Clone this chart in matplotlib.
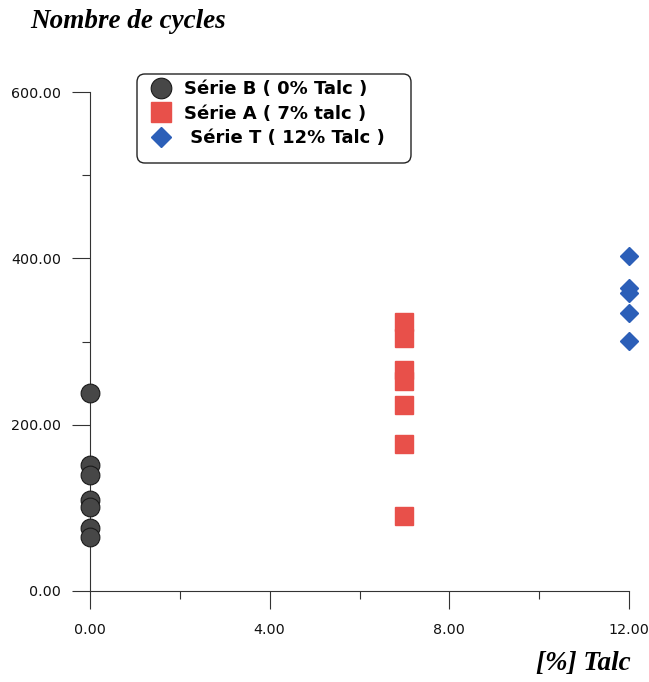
import matplotlib.pyplot as plt
from matplotlib.patches import FancyBboxPatch
from matplotlib.ticker import MultipleLocator, FormatStrFormatter

# nombre de cycles pour chaque teneur en talc
talc_B = [0, 0, 0, 0, 0, 0, 0]
cycles_B = [238, 151, 139, 109, 101, 76, 65]
talc_A = [7, 7, 7, 7, 7, 7, 7]
cycles_A = [323, 304, 266, 252, 224, 177, 90]
talc_T = [12, 12, 12, 12, 12]
cycles_T = [403, 364, 358, 334, 301]

labels = ['Série B ( 0% Talc )', 'Série A ( 7% talc )', ' Série T ( 12% Talc )']

plt.rcParams['font.family'] = ['DejaVu Sans']

W, H = 649, 682
fig = plt.figure(figsize=(W / 100, H / 100), dpi=100)
ax = fig.add_axes([90 / W, 1 - 591 / H, 539 / W, 499 / H])

ax.plot(talc_B, cycles_B, 'o', ms=13.5, color='#474747', mec='#1a1a1a', mew=0.8,
        clip_on=False, label=labels[0], zorder=3)
ax.plot(talc_A, cycles_A, 's', ms=13, color='#e8504a', mec='#e8504a',
        clip_on=False, label=labels[1], zorder=3)
ax.plot(talc_T, cycles_T, 'D', ms=9.5, color='#2c5fb8', mec='#2c5fb8',
        clip_on=False, label=labels[2], zorder=3)

ax.set_xlim(0, 12)
ax.set_ylim(0, 600)
ax.xaxis.set_major_locator(MultipleLocator(4))
ax.xaxis.set_minor_locator(MultipleLocator(2))
ax.yaxis.set_major_locator(MultipleLocator(200))
ax.yaxis.set_minor_locator(MultipleLocator(100))
ax.xaxis.set_major_formatter(FormatStrFormatter('%.2f'))
ax.yaxis.set_major_formatter(FormatStrFormatter('%.2f'))

for s in ['top', 'right']:
    ax.spines[s].set_visible(False)
for s in ['left', 'bottom']:
    ax.spines[s].set_linewidth(0.8)
    ax.spines[s].set_color('#333333')

ax.tick_params(which='major', direction='out', length=13, width=0.8,
               color='#333333', labelsize=10.3, labelcolor='#111111')
ax.tick_params(axis='x', which='major', pad=10)
ax.tick_params(axis='y', which='major', pad=8)
ax.tick_params(which='minor', direction='out', length=6, width=0.8, color='#333333')

# légende sans cadre + cadre arrondi dessiné à part
leg = ax.legend(loc='upper left', bbox_to_anchor=(142 / W, 1 - 71 / H),
                bbox_transform=fig.transFigure, frameon=False, borderpad=0,
                handletextpad=0.72, labelspacing=0.36, handlelength=1.1,
                markerscale=1.1, prop={'weight': 'bold', 'size': 13})
leg.set_zorder(6)
box = FancyBboxPatch((137 / W, 1 - 163 / H), 274 / W, 89 / H,
                     boxstyle='round,pad=0,rounding_size=0.012',
                     transform=fig.transFigure, facecolor='white',
                     edgecolor='#222222', linewidth=1.0, zorder=5, clip_on=False)
ax.add_patch(box)

fig.text(30 / W, 1 - 21 / H, 'Nombre de cycles', family='Liberation Serif',
         style='italic', weight='bold', fontsize=19.5, ha='left', va='center')
fig.text(631 / W, 1 - 664 / H, '[%] Talc', family='Liberation Serif',
         style='italic', weight='bold', fontsize=19.5, ha='right', va='center')

fig.savefig('out.png', dpi=100)
